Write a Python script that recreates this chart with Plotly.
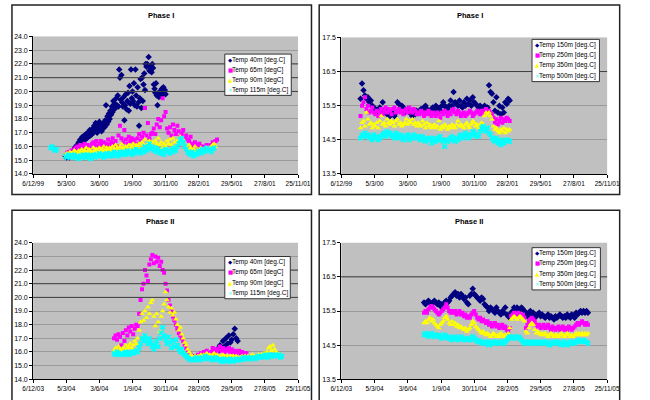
import numpy as np
import pandas as pd
import plotly.graph_objects as go

# ---------------- data ----------------
STEP_DAYS = 4
P1_ORIGIN = "1999-12-06"
P2_ORIGIN = "2003-12-06"

P1_TICKVALS = ["1999-12-06", "2000-03-05", "2000-06-03", "2000-09-01", "2000-11-30",
               "2001-02-28", "2001-05-29", "2001-08-27", "2001-11-25"]
P1_TICKTEXT = ["6/12/99", "5/3/00", "3/6/00", "1/9/00", "30/11/00",
               "28/2/01", "29/5/01", "27/8/01", "25/11/01"]
P2_TICKVALS = ["2003-12-06", "2004-03-05", "2004-06-03", "2004-09-01", "2004-11-30",
               "2005-02-28", "2005-05-29", "2005-08-27", "2005-11-25"]
P2_TICKTEXT = ["6/12/03", "5/3/04", "3/6/04", "1/9/04", "30/11/04",
               "28/2/05", "29/5/05", "27/8/05", "25/11/05"]

SHALLOW_NAMES = ["Temp 40m [deg.C]", "Temp 65m [degC]", "Temp 90m [degC]", "Temp 115m [deg.C]"]
DEEP_NAMES = ["Temp 150m [deg.C]", "Temp 250m [deg.C]", "Temp 350m [deg.C]", "Temp 500m [deg.C]"]

# Phase I shallow (start = day offset from P1_ORIGIN)
p1_40m_start = 88
p1_40m_step = 2
p1_40m = [15.3, 15.2, 15.4, 15.3, 15.5, 15.2, 15.4, 15.3, 15.5, 15.4, 15.6, 15.5, 15.8,
          15.9, 16.0, 15.8, 16.1, 16.0, 16.3, 16.2, 16.5, 16.1, 16.4, 16.7, 16.3, 16.6,
          16.8, 16.5, 16.9, 16.6, 17.0, 16.7, 16.9, 17.2, 16.8, 17.1, 16.9, 17.3, 17.0,
          17.5, 17.2, 17.7, 17.3, 17.0, 17.6, 17.4, 17.8, 17.2, 17.5, 17.1, 17.6, 17.3,
          17.7, 17.4, 17.9, 19.0, 17.6, 18.2, 17.8, 18.4, 18.0, 18.6, 18.3, 18.9, 18.5,
          19.3, 18.7, 19.1, 18.8, 19.5, 19.0, 19.7, 18.9, 21.6, 21.0, 19.4, 21.2, 19.2,
          18.9, 19.6, 17.9, 19.0, 19.8, 18.7, 19.3, 19.9, 18.6, 20.4, 19.1, 21.6, 19.5,
          20.0, 19.3, 20.6, 19.0, 21.6, 19.7, 18.9, 20.3, 19.2, 17.5, 19.5, 20.9, 18.8,
          21.0, 19.3, 20.5, 21.3, 20.1, 22.0, 21.8, 22.0, 21.9, 22.5, 21.5, 21.8, 21.6,
          21.4, 22.0, 21.7, 20.5, 20.2, 19.9, 20.6, 19.7, 19.0, 19.8, 19.6, 20.0, 19.7,
          19.9, 20.2, 19.8, 20.3, 19.9, 20.1, 19.8]
p1_65m_start = 92
p1_65m = [15.5, 15.6, 15.5, 15.7, 15.6, 15.8, 15.9,
          16.0, 15.8, 16.1, 15.9, 16.0, 16.2, 15.9, 16.1, 16.0, 15.8, 16.2,
          16.3, 16.1, 16.4, 16.0, 16.2, 16.4, 16.1, 16.3, 16.0, 16.2,
          16.5, 16.1, 16.3, 16.6, 16.2, 16.4, 16.0, 16.8, 17.5, 16.6,
          16.3, 17.2, 16.5, 16.2, 16.7, 16.4, 16.6, 16.3, 16.5, 16.2,
          16.6, 16.9, 16.4, 16.7, 17.0, 18.8, 16.8, 17.7, 16.6, 16.9,
          17.0, 17.3, 16.9, 17.6, 18.0, 17.4, 17.9, 19.5, 18.2, 18.5,
          17.3, 17.0, 17.4, 16.8, 17.6, 17.2, 16.9, 17.5, 17.1, 16.7,
          16.9, 17.2, 16.6, 16.8, 16.5, 16.4, 16.7, 16.2, 16.0, 16.3,
          16.1, 15.9, 16.2, 16.0, 15.8, 16.0, 15.9, 16.1, 15.9, 16.0,
          16.1, 16.3, 16.2, 16.4, 16.5]
p1_90m_start = 88
p1_90m = [15.4, 15.5, 15.4, 15.6, 15.5, 15.5, 15.7, 15.6, 15.5, 15.7,
          15.6, 15.8, 15.6, 15.7, 15.9, 15.6, 15.8, 15.7, 15.6, 15.9,
          15.7, 15.8, 15.6, 15.9, 15.7, 15.8, 16.0, 15.7, 15.9, 15.8,
          15.9, 15.7, 16.0, 15.8, 16.1, 15.9, 15.8, 16.0, 16.2, 15.9,
          15.8, 16.0, 15.9, 16.1, 15.8, 16.0, 16.2, 15.9, 16.1, 16.0,
          16.2, 15.9, 16.3, 16.1, 16.5, 16.0, 16.2, 16.4, 16.1, 16.3,
          16.0, 16.4, 16.2, 16.6, 16.1, 16.3, 15.9, 16.2, 16.0, 16.4,
          16.2, 16.5, 16.1, 16.6, 16.3, 16.0, 16.4, 16.2, 16.7, 16.3,
          16.5, 16.1, 16.0, 15.8, 16.1, 15.9, 15.7, 15.8, 16.0, 15.7,
          15.8, 15.6, 15.9, 15.7, 15.6, 15.8, 15.9, 15.7, 15.8, 16.0,
          16.1, 16.2, 16.0]
p1_115m_start = 48
p1_115m = [15.9, 16.0, 15.8, 15.7, 15.8,
           None, None, None, None, None,
           15.3, 15.2, 15.4, 15.3, 15.2, 15.3, 15.4, 15.2, 15.3, 15.1,
           15.3, 15.2, 15.4, 15.3, 15.2, 15.4, 15.3, 15.1, 15.3, 15.4,
           15.2, 15.4, 15.3, 15.5, 15.3, 15.4, 15.2, 15.4, 15.5, 15.3,
           15.4, 15.5, 15.3, 15.6, 15.4, 15.5, 15.3, 15.6, 15.4, 15.5,
           15.6, 15.4, 15.7, 15.5, 15.6, 15.4, 15.7, 15.5, 15.8, 15.6,
           15.7, 15.5, 15.8, 15.6, 16.0, 15.7, 15.9, 16.2, 15.8, 16.0,
           15.7, 15.9, 15.6, 15.8, 15.5, 15.7, 15.6, 15.4, 15.8, 15.6,
           15.7, 15.5, 15.8, 15.6, 15.9, 15.7, 16.0, 16.2, 16.5, 16.6,
           16.3, 16.0, 15.8, 15.6, 15.5, 15.4, 15.6, 15.3, 15.5, 15.4,
           15.6, 15.7, 15.5, 15.8, 15.6, 15.7, 15.9, 15.7, 15.8, 15.6,
           15.8, 15.9]

# Phase I deep
p1_deep_start = 52
p1_150m = [15.7, 16.15, 15.95, 15.8, 15.7, 15.75, 15.6, 15.65, 15.5, 15.45,
           15.4, 15.35, 15.3, 15.45, 15.3, 15.6, 15.35, 15.4, 15.25, 15.3,
           15.2, 15.3, 15.25, 15.2, 15.3, 15.6, 15.55, 15.4, 15.5, 15.45,
           15.3, 15.35, 15.4, 15.3, 15.35, 15.2, 15.3, 15.25, 15.35, 15.3,
           15.3, 15.4, 15.35, 15.45, 15.5, 15.4, 15.35, 15.3, 15.4, 15.45,
           15.35, 15.5, 15.45, 15.4, 15.35, 15.5, 15.6, 15.5, 15.45, 15.4,
           15.5, 15.65, 15.5, 15.9, 15.6, 15.55, 15.5, 15.65, 15.5, 15.45,
           15.6, 15.5, 15.7, 15.55, 15.65, 15.5, 15.75, 15.6, 15.55, 15.5,
           15.45, 15.5, 15.4, 15.45, 15.5, 15.4, 15.45, 16.1, 15.9, 15.85,
           15.6, 15.35, 15.75, 15.3, 15.5, 15.25, 15.45, 15.3, 15.6, 15.55,
           15.7, 15.65]
p1_250m = [15.2, 15.5, 15.6, 15.75, 15.4, 15.5, 15.3, 15.35, 15.45, 15.3,
           15.25, 15.35, 15.2, 15.3, 15.4, 15.25, 15.35, 15.45, 15.3, 15.4,
           15.35, 15.25, 15.4, 15.45, 15.3, 15.35, 15.4, 15.3, 15.35, 15.25,
           15.35, 15.4, 15.3, 15.45, 15.35, 15.3, 15.4, 15.35, 15.25, 15.3,
           15.25, 15.35, 15.3, 15.2, 15.3, 15.25, 15.35, 15.3, 15.2, 15.3,
           15.25, 15.2, 15.3, 15.25, 15.15, 15.3, 15.25, 15.35, 15.3, 15.2,
           15.3, 15.25, 15.35, 15.4, 15.3, 15.25, 15.35, 15.3, 15.2, 15.25,
           15.3, 15.2, 15.25, 15.3, 15.35, 15.3, 15.2, 15.25, 15.3, 15.35,
           15.3, 15.25, 15.35, 15.3, 15.35, 15.4, 15.3, 15.35, 15.3, 15.25,
           15.15, 15.0, 15.1, 14.95, 15.05, 15.15, 15.0, 15.1, 15.05, 15.15,
           15.1, 15.05]
p1_350m = [14.85, 15.0, 15.05, 14.9, 15.3, 15.1, 14.95, 15.0, 14.85, 14.95,
           14.9, 15.0, 14.85, 15.05, 15.2, 14.95, 15.0, 14.9, 15.1, 15.0,
           14.95, 15.05, 15.0, 14.9, 15.05, 15.1, 14.95, 15.0, 14.9, 14.95,
           15.0, 15.1, 14.95, 15.05, 15.0, 15.1, 14.95, 15.0, 14.9, 15.0,
           14.95, 14.9, 15.05, 14.95, 14.85, 15.0, 14.9, 14.95, 14.85, 14.9,
           14.95, 14.85, 14.9, 15.05, 14.8, 14.9, 14.85, 14.95, 14.9, 14.8,
           14.9, 14.85, 14.95, 14.9, 14.85, 14.95, 15.05, 14.9, 14.95, 14.9,
           14.85, 14.95, 15.0, 14.9, 14.85, 14.95, 15.05, 15.0, 14.9, 14.95,
           14.85, 14.95, 15.0, 14.95, 15.2, 15.3, 15.25, 15.3, 15.2, 15.1,
           14.9, 14.8, 14.85, 14.75, 14.7, 14.8, 14.75, 14.85, 14.7, 14.8,
           14.75, 14.8]
p1_500m = [14.55, 14.65, 14.6, 14.7, 14.6, 14.65, 14.55, 14.6, 14.5, 14.65,
           14.55, 14.6, 14.5, 14.55, 14.6, 14.65, 14.7, 14.6, 14.75, 14.65,
           14.7, 14.6, 14.65, 14.55, 14.7, 14.6, 14.55, 14.65, 14.6, 14.5,
           14.55, 14.6, 14.65, 14.5, 14.6, 14.55, 14.65, 14.6, 14.55, 14.6,
           14.5, 14.55, 14.6, 14.5, 14.45, 14.55, 14.5, 14.55, 14.4, 14.5,
           14.55, 14.45, 14.5, 14.55, 14.6, 14.5, 14.45, 14.3, 14.5, 14.45,
           14.5, 14.55, 14.6, 14.5, 14.45, 14.55, 14.5, 14.6, 14.65, 14.55,
           14.6, 14.7, 14.65, 14.55, 14.6, 14.65, 14.75, 14.7, 14.6, 14.65,
           14.6, 14.75, 14.85, 14.9, 14.8, 14.75, 14.85, 14.7, 14.65, 14.55,
           14.5, 14.45, 14.55, 14.4, 14.5, 14.35, 14.45, 14.4, 14.5, 14.45,
           14.5, 14.45]

# Phase II shallow (start = day offset from P2_ORIGIN)
p2_40m_start = 488
p2_40m = [15.8, 15.9, 16.0, 16.2, 16.1, 16.5, 16.3, 16.8, 16.4, 17.0,
          16.6, 17.2, 16.7, 16.9, 17.3, 17.7, 17.0, 16.8]
p2_65m_start = 220
p2_65m = [17.0, 17.2, 16.9, 17.3, 17.1, 16.5, 17.4, 16.8, 17.6, 17.2,
          17.8, 17.5, 17.9, 17.3, 17.7, 18.0, 17.9, 18.8, 19.8, 20.6,
          21.0, 22.0, 21.6, 21.2, 22.4, 22.8, 23.1, 22.5, 23.0, 22.6,
          22.9, 22.3, 22.6, 22.0, 21.8, 21.0, 20.5, 19.8, 19.4, 19.0,
          18.6, 18.3, 18.0, 17.7, 17.4, 17.2, 17.0, 16.8, 16.5, 16.3,
          16.1, 15.9, 15.8, 15.7, 15.6, 15.7, 15.6, 15.8, 15.7, 15.9,
          15.8, 16.0, 15.9, 16.1, 15.8, 15.9, 16.0, 16.3, 16.1, 16.2,
          16.0, 16.2, 16.4, 16.1, 16.3, 16.0, 16.2, 16.1, 16.3, 16.0,
          16.2, 16.0, 16.1, 15.9, 16.0, 16.1, 15.9, 16.0, 15.8, 15.9,
          15.9]
p2_90m_start = 220
p2_90m = [16.1, 16.3, 16.0, 16.4, 16.2, 16.1, 16.3, 16.2, 16.5, 16.3,
          16.4, 16.6, 16.3, 16.5, 16.8, 16.6, 17.0, 17.6, 18.2, 18.8,
          18.3, 19.0, 18.5, 19.3, 18.8, 19.6, 19.8, 18.6, 17.9, 18.8,
          18.2, 17.5, 18.6, 19.0, 19.5, 20.4, 19.8, 19.3, 18.9, 19.2,
          18.7, 18.9, 18.4, 18.0, 17.6, 17.8, 17.3, 17.0, 16.7, 16.5,
          16.2, 16.0, 15.8, 15.7, 15.6, 15.7, 15.6, 15.7, 15.6, 15.8,
          15.7, 15.8, 15.7, 15.9, 15.7, 15.8, 15.7, 15.8, 15.9, 15.7,
          15.8, 15.7, 15.6, 15.7, 15.8, 15.7, 15.6, 15.7, 15.6, 15.7,
          15.6, 15.7, 15.6, 15.7, 15.6, 15.5, 15.6, 15.7, 15.6, 15.7,
          15.6, 15.7, 15.6, 15.7, 15.8, 15.7, 15.6, 15.7, 15.8, 15.7,
          15.8, 15.7, 15.9, 15.8, 16.0, 16.3, 16.4, 16.1, 16.5, 16.2,
          16.0, 15.9, 15.8, 15.7]
p2_115m_start = 220
p2_115m = [15.9, 15.8, 16.0, 15.9, 15.8, 15.9, 15.8, 15.9, 16.0, 15.9,
           15.8, 15.9, 16.0, 15.9, 16.0, 16.1, 16.0, 16.3, 16.6, 17.0,
           16.8, 17.2, 16.9, 16.6, 17.0, 16.7, 16.4, 16.2, 16.5, 16.8,
           16.4, 17.0, 17.4, 17.8, 17.2, 16.9, 16.6, 17.1, 16.7, 16.3,
           16.8, 16.4, 16.9, 16.5, 16.2, 16.0, 16.2, 15.9, 15.8, 15.7,
           15.6, 15.5, 15.4, 15.5, 15.4, 15.5, 15.6, 15.5, 15.4, 15.5,
           15.6, 15.5, 15.7, 15.6, 15.5, 15.6, 15.5, 15.4, 15.5, 15.6,
           15.5, 15.4, 15.5, 15.3, 15.4, 15.5, 15.4, 15.3, 15.4, 15.5,
           15.4, 15.3, 15.4, 15.5, 15.4, 15.5, 15.4, 15.5, 15.6, 15.5,
           15.5, 15.6, 15.5, 15.6, 15.5, 15.6, 15.5, 15.6, 15.7, 15.6,
           15.7, 15.6, 15.7, 15.8, 15.7, 15.6, 15.8, 15.7, 15.8, 15.7,
           15.8, 15.7, 15.8, 15.6, 15.7]

# Phase II deep
p2_deep_start = 224
p2_150m = [15.75, 15.7, 15.75, 15.8, 15.75, 15.7, 15.75, 15.8, 15.75, 15.7,
           15.75, 15.65, 15.7, 15.6, 15.75, 15.8, 15.75, 15.8, 15.9, 15.95,
           16.0, 16.05, 15.95, 16.0, 15.9, 16.0, 15.95, 15.85, 15.9, 15.75,
           15.7, 15.95, 16.0, 16.15, 16.0, 15.95, 15.9, 15.85, 15.8, 15.9,
           15.85, 15.7, 15.65, 15.6, 15.5, 15.6, 15.55, 15.5, 15.45, 15.6,
           15.5, 15.45, 15.4, 15.5, 15.45, 15.6, 15.4, 15.35, 15.3, 15.45,
           15.5, 15.6, 15.55, 15.6, 15.5, 15.55, 15.6, 15.55, 15.5, 15.4,
           15.35, 15.45, 15.5, 15.4, 15.45, 15.3, 15.35, 15.4, 15.45, 15.35,
           15.4, 15.35, 15.3, 15.35, 15.4, 15.3, 15.35, 15.3, 15.25, 15.35,
           15.3, 15.35, 15.4, 15.35, 15.3, 15.35, 15.3, 15.4, 15.35, 15.3,
           15.4, 15.35, 15.3, 15.45, 15.4, 15.45, 15.5, 15.45, 15.5, 15.45,
           15.5, 15.45]
p2_250m = [15.45, 15.5, 15.45, 15.55, 15.6, 15.65, 15.6, 15.55, 15.5, 15.45,
           15.4, 15.45, 15.5, 15.55, 15.6, 15.7, 15.6, 15.5, 15.45, 15.5,
           15.45, 15.5, 15.4, 15.45, 15.5, 15.4, 15.45, 15.35, 15.4, 15.3,
           15.35, 15.3, 15.4, 15.45, 15.5, 15.4, 15.3, 15.25, 15.3, 15.2,
           15.25, 15.2, 15.15, 15.2, 15.1, 15.15, 15.05, 15.1, 15.15, 15.05,
           15.1, 15.0, 15.05, 15.1, 15.0, 15.05, 14.95, 14.9, 15.0, 15.35,
           15.4, 15.45, 15.4, 15.35, 15.45, 15.4, 15.35, 15.4, 15.3, 15.0,
           15.1, 15.2, 15.25, 15.3, 15.25, 15.2, 15.1, 15.05, 15.1, 15.0,
           15.05, 15.1, 15.0, 15.05, 15.1, 15.0, 14.95, 15.05, 15.0, 14.95,
           15.0, 15.05, 14.95, 15.0, 15.05, 14.95, 15.0, 14.95, 15.05, 15.0,
           14.95, 15.0, 15.05, 15.1, 15.15, 15.1, 15.15, 15.2, 15.15, 15.1,
           15.15, 15.1]
p2_350m = [15.15, 15.2, 15.15, 15.25, 15.3, 15.2, 15.25, 15.15, 15.1, 15.05,
           15.0, 15.1, 15.15, 15.2, 15.3, 15.35, 15.25, 15.15, 15.1, 15.2,
           15.1, 15.15, 15.05, 15.1, 15.0, 15.05, 15.0, 14.95, 15.0, 14.9,
           14.95, 15.0, 15.1, 15.2, 15.15, 15.05, 15.0, 14.95, 14.9, 14.85,
           14.9, 14.85, 14.8, 14.85, 14.8, 14.75, 14.8, 14.85, 14.8, 14.75,
           14.8, 14.75, 14.85, 14.8, 14.75, 14.8, 14.7, 14.85, 15.0, 15.25,
           15.3, 15.35, 15.3, 15.25, 15.3, 15.35, 15.3, 15.25, 15.2, 14.9,
           14.85, 15.0, 15.1, 15.15, 15.1, 14.95, 14.85, 14.9, 14.85, 14.8,
           14.85, 14.8, 14.85, 14.8, 14.75, 14.8, 14.85, 14.8, 14.75, 14.8,
           14.8, 14.75, 14.8, 14.85, 14.8, 14.75, 14.8, 14.85, 14.8, 14.75,
           14.8, 14.75, 14.8, 14.85, 14.8, 14.85, 14.8, 14.85, 14.8, 14.85,
           14.8, 14.85]
p2_500m = [14.8, 14.85, 14.8, 14.75, 14.8, 14.85, 14.8, 14.75, 14.8, 14.75,
           14.8, 14.75, 14.7, 14.75, 14.8, 14.75, 14.7, 14.75, 14.7, 14.65,
           14.7, 14.75, 14.7, 14.65, 14.7, 14.75, 14.7, 14.65, 14.7, 14.65,
           14.7, 14.65, 14.7, 14.75, 14.7, 14.65, 14.6, 14.65, 14.6, 14.55,
           14.6, 14.55, 14.6, 14.55, 14.5, 14.6, 14.55, 14.6, 14.55, 14.6,
           14.55, 14.6, 14.55, 14.6, 14.55, 14.6, 14.65, 14.7, 14.75, 14.7,
           14.75, 14.7, 14.75, 14.7, 14.75, 14.7, 14.65, 14.6, 14.55, 14.6,
           14.55, 14.6, 14.55, 14.6, 14.55, 14.6, 14.55, 14.6, 14.55, 14.6,
           14.55, 14.6, 14.55, 14.6, 14.55, 14.5, 14.55, 14.6, 14.55, 14.6,
           14.55, 14.6, 14.55, 14.5, 14.55, 14.6, 14.55, 14.5, 14.55, 14.6,
           14.55, 14.6, 14.55, 14.6, 14.65, 14.6, 14.65, 14.6, 14.65, 14.6,
           14.6, 14.55]

DARK_GRID_SHALLOW = [20, 21, 22]
DARK_GRID_DEEP = [16.5]

# ---------------- styling ----------------
W, H = 650, 400
FONT = "Liberation Sans, Arial, sans-serif"
COLORS = ["#000080", "#FF00FF", "#FFFF00", "#00FFFF"]
SYMBOLS = ["diamond", "square", "triangle-up", "x"]
SIZES = [5, 4, 5, 5]
LEG_GLYPHS = ["\u25C6", "\u25A0", "\u25B2", "\u00D7"]


def px(x):
    return x / W


def py(y):
    return 1 - y / H


def dates(origin, start, n, step=STEP_DAYS):
    return pd.Timestamp(origin) + pd.to_timedelta(start + step * np.arange(n), unit="D")


fig = go.Figure()

panels = [
    dict(k="", origin=P1_ORIGIN, tv=P1_TICKVALS, tt=P1_TICKTEXT, names=SHALLOW_NAMES,
         series=[(p1_40m_start, p1_40m, p1_40m_step), (p1_65m_start, p1_65m, STEP_DAYS),
                 (p1_90m_start, p1_90m, STEP_DAYS), (p1_115m_start, p1_115m, STEP_DAYS)],
         yr=[14, 24], y0=14, dark=DARK_GRID_SHALLOW,
         box=(1, 1, 312, 194), plot=(23, 33, 298, 173), title="Phase I", tpos=(155.5, 12),
         leg=(222, 51, 291, 93)),
    dict(k="2", origin=P1_ORIGIN, tv=P1_TICKVALS, tt=P1_TICKTEXT, names=DEEP_NAMES,
         series=[(p1_deep_start, p1_150m, STEP_DAYS), (p1_deep_start, p1_250m, STEP_DAYS),
                 (p1_deep_start, p1_350m, STEP_DAYS), (p1_deep_start, p1_500m, STEP_DAYS)],
         yr=[13.5, 17.5], y0=13.5, dark=DARK_GRID_DEEP,
         box=(320, 1, 632, 194), plot=(343, 34, 619, 173), title="Phase I", tpos=(476.5, 12),
         leg=(541, 36, 611, 79)),
    dict(k="3", origin=P2_ORIGIN, tv=P2_TICKVALS, tt=P2_TICKTEXT, names=SHALLOW_NAMES,
         series=[(p2_40m_start, p2_40m, STEP_DAYS), (p2_65m_start, p2_65m, STEP_DAYS),
                 (p2_90m_start, p2_90m, STEP_DAYS), (p2_115m_start, p2_115m, STEP_DAYS)],
         yr=[14, 24], y0=14, dark=DARK_GRID_SHALLOW,
         box=(1, 210, 312, 420), plot=(23, 243, 298, 382), title="Phase II", tpos=(155, 221),
         leg=(222, 257, 290, 300)),
    dict(k="4", origin=P2_ORIGIN, tv=P2_TICKVALS, tt=P2_TICKTEXT, names=DEEP_NAMES,
         series=[(p2_deep_start, p2_150m, STEP_DAYS), (p2_deep_start, p2_250m, STEP_DAYS),
                 (p2_deep_start, p2_350m, STEP_DAYS), (p2_deep_start, p2_500m, STEP_DAYS)],
         yr=[13.5, 17.5], y0=13.5, dark=DARK_GRID_DEEP,
         box=(320, 210, 632, 420), plot=(343, 243, 619, 382), title="Phase II", tpos=(476, 221.5),
         leg=(541, 248, 612, 291)),
]

shapes = []
annotations = []
layout_axes = {}

for p in panels:
    k = p["k"]
    xa, ya = "x" + k, "y" + k
    for i, (start, vals, step) in enumerate(p["series"]):
        fig.add_trace(go.Scatter(
            x=dates(p["origin"], start, len(vals), step), y=vals, mode="markers",
            name=p["names"][i], showlegend=False, xaxis=xa, yaxis=ya,
            marker=dict(color=COLORS[i], symbol=SYMBOLS[i], size=SIZES[i], line=dict(width=0)),
        ))
    x0, y0, x1, y1 = p["plot"]
    layout_axes["xaxis" + k] = dict(
        domain=[px(x0), px(x1)], anchor=ya, type="date",
        range=[p["tv"][0], p["tv"][-1]], tickvals=p["tv"], ticktext=p["tt"],
        ticks="outside", ticklen=3, tickcolor="#000", showline=True, linecolor="#000", linewidth=1,
        showgrid=False, zeroline=False, tickfont=dict(family=FONT, size=6.5, color="#000"),
    )
    layout_axes["yaxis" + k] = dict(
        domain=[py(y1), py(y0)], anchor=xa, range=p["yr"], tick0=p["y0"], dtick=1,
        tickformat=".1f", ticks="outside", ticklen=3, tickcolor="#000",
        showline=True, linecolor="#000", linewidth=1, showgrid=True, gridcolor="#9a9a9a", gridwidth=1,
        zeroline=False, tickfont=dict(family=FONT, size=7, color="#000"),
    )
    # darker gridlines
    for v in p["dark"]:
        shapes.append(dict(type="line", xref=xa + " domain", yref=ya, x0=0, x1=1, y0=v, y1=v,
                           line=dict(color="#404040", width=1), layer="above"))
    # chart box
    bx0, by0, bx1, by1 = p["box"]
    shapes.append(dict(type="rect", xref="paper", yref="paper", x0=px(bx0), x1=px(bx1),
                       y0=py(by1), y1=py(by0), line=dict(color="#222", width=1.5), layer="above"))
    # title
    annotations.append(dict(text="<b>" + p["title"] + "</b>", xref="paper", yref="paper",
                            x=px(p["tpos"][0]), y=py(p["tpos"][1]), xanchor="center", yanchor="middle",
                            showarrow=False, font=dict(family=FONT, size=7.5, color="#000")))
    # legend box
    lx0, ly0, lx1, ly1 = p["leg"]
    shapes.append(dict(type="rect", xref="paper", yref="paper", x0=px(lx0), x1=px(lx1),
                       y0=py(ly1), y1=py(ly0), fillcolor="#fff", line=dict(color="#333", width=1),
                       layer="above"))
    for i, name in enumerate(p["names"]):
        ry = ly0 + 5.5 + i * 10.5
        annotations.append(dict(text=LEG_GLYPHS[i], xref="paper", yref="paper", x=px(lx0 + 1),
                                y=py(ry), xanchor="left", yanchor="middle", showarrow=False,
                                font=dict(family="DejaVu Sans", size=5.5, color=COLORS[i])))
        annotations.append(dict(text=name, xref="paper", yref="paper", x=px(lx0 + 5),
                                y=py(ry), xanchor="left", yanchor="middle", showarrow=False,
                                font=dict(family=FONT, size=6.5, color="#000")))

fig.update_layout(
    width=W, height=H, margin=dict(l=0, r=0, t=0, b=0),
    paper_bgcolor="#fff", plot_bgcolor="#c0c0c0", showlegend=False,
    shapes=shapes, annotations=annotations, **layout_axes,
)

fig.write_html("out.html")
